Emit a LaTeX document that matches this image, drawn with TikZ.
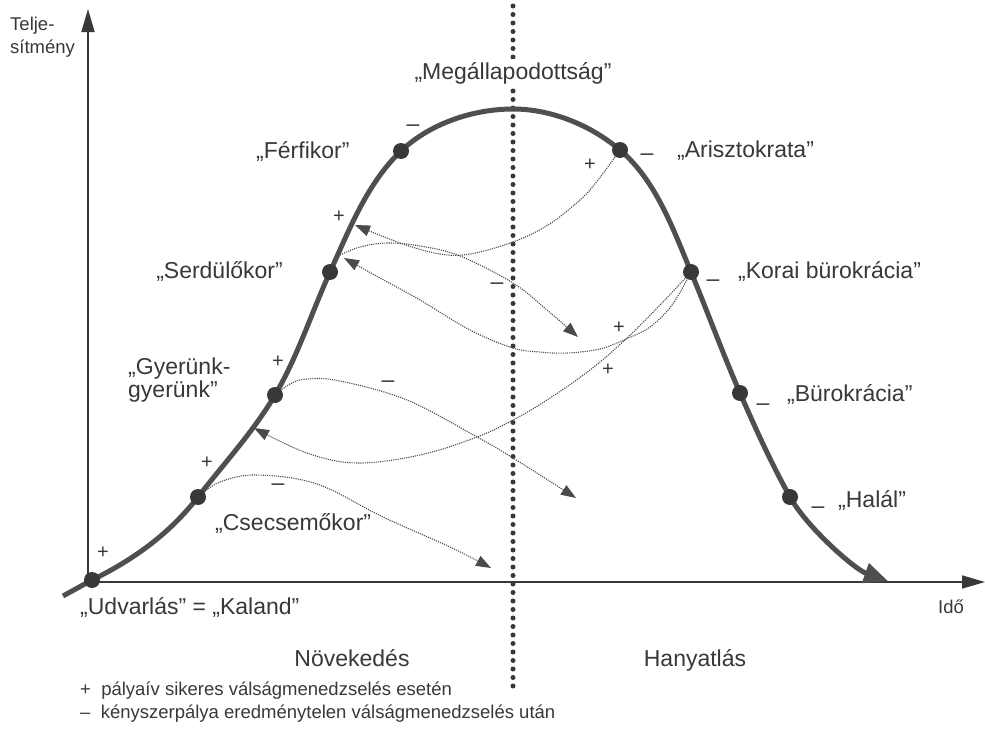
\documentclass[tikz,border=0pt]{standalone}
\usepackage{fontspec}
\setmainfont{Liberation Sans}
\usetikzlibrary{arrows.meta}
\definecolor{ink}{HTML}{383838}
\definecolor{curvegray}{HTML}{4F4F4F}
\definecolor{trace}{HTML}{4A4A4A}

\begin{document}
\begin{tikzpicture}[x=1pt,y=-1pt,
  lbl/.style={font=\fontsize{23}{27}\selectfont, text=ink, inner sep=0pt},
  small/.style={font=\fontsize{18.5}{23}\selectfont, text=ink, inner sep=0pt},
  plus/.style={font=\fontsize{20}{24}\selectfont, text=ink, inner sep=0pt},
  minus/.style={font=\fontsize{23}{27}\selectfont, text=ink, inner sep=0pt},
  axis/.style={draw=ink, line width=1.8pt, -{Triangle[length=23pt,width=13pt]}},
  dot/.style={circle, fill=ink, minimum size=16pt, inner sep=0pt},
  lifecurve/.style={draw=curvegray, line width=5pt, -{Triangle[length=24pt,width=20pt]}},
  trajectory/.style={draw=trace, line width=1.1pt, dash pattern=on 1.1pt off 1.1pt,
    -{Triangle[length=15pt,width=11pt]}},
  divider/.style={draw=ink, line width=5pt, line cap=round, dash pattern=on 0pt off 8.5pt},
]
\useasboundingbox (0,0) rectangle (985,736);

% growth / decline divider
\coordinate (divtop) at (513,6);
\coordinate (divbot) at (513,689);
\draw[divider] (divtop) -- (divbot);

% axes
\coordinate (o) at (88,582);
\coordinate (ytop) at (88,9);
\coordinate (xend) at (985,582);
\draw[axis] (o) -- (ytop);
\draw[axis] (o) -- (xend);

% stages on the life curve
\coordinate (u) at (92,580);
\coordinate (cs) at (198,497);
\coordinate (gy) at (275,395);
\coordinate (se) at (330,272);
\coordinate (fe) at (401,151);
\coordinate (top) at (513,109);
\coordinate (ar) at (620,150);
\coordinate (kb) at (691,272);
\coordinate (bu) at (740,393);
\coordinate (ha) at (790,497);
\coordinate (lifestart) at (63,596);
\coordinate (lifeend) at (888,581);

% arrow ends of the trajectories
\coordinate (tipA) at (355,225);
\coordinate (tipB) at (578,337);
\coordinate (tipC) at (344,258);
\coordinate (tipD) at (254,428);
\coordinate (tipE) at (576,498);
\coordinate (tipF) at (491,568);
\coordinate (startB) at (340,255);

% trajectories
\draw[trajectory] plot[smooth, tension=0.6] coordinates {(ar) (598,180) (580,200) (548,225) (513,242) (470,254) (440,254) (403,244) (tipA)};
\draw[trajectory] plot[smooth, tension=0.6] coordinates {(startB) (360,247) (387,243) (420,246) (460,256) (513,283) (547,310) (tipB)};
\draw[trajectory] plot[smooth, tension=0.6] coordinates {(kb) (672,305) (650,327) (626,339) (600,349) (567,353) (540,352) (513,348) (470,330) (420,300) (380,278) (tipC)};
\draw[trajectory] plot[smooth, tension=0.6] coordinates {(kb) (660,305) (626,339) (590,370) (547,400) (513,420) (477,437) (420,455) (357,463) (307,453) (tipD)};
\draw[trajectory] plot[smooth, tension=0.6] coordinates {(gy) (290,384) (307,379) (340,381) (407,400) (477,437) (513,458) (tipE)};
\draw[trajectory] plot[smooth, tension=0.6] coordinates {(cs) (220,482) (257,475) (317,484) (383,517) (450,547) (tipF)};

% life curve
\draw[lifecurve] (lifestart) -- (u)
  .. controls (135,559) and (170,533) .. (cs)
  .. controls (224.1,463.3) and (253.4,431.7) .. (gy)
  .. controls (297.8,356.3) and (311.4,312.9) .. (se)
  .. controls (349.4,229.4) and (367.1,183.2) .. (fe)
  .. controls (429.9,123.5) and (473.1,109) .. (top)
  .. controls (551.2,109) and (590.9,125.2) .. (ar)
  .. controls (655.9,180.5) and (672.9,228.5) .. (kb)
  .. controls (707.7,312.2) and (722.6,353.1) .. (bu)
  .. controls (755.4,428.3) and (771.3,463.4) .. (ha)
  .. controls (807,527.6) and (855,569.5) .. (lifeend);

% stage dots
\foreach \p in {u,cs,gy,se,fe,ar,kb,bu,ha} \node[dot] (dot-\p) at (\p) {};

% stage names
\node[lbl, fill=white, inner sep=3pt] (lmeg) at (513,73) {„Megállapodottság”};
\node[lbl, anchor=base west] (lfe) at (256,158) {„Férfikor”};
\node[lbl, anchor=base west] (lar) at (677,157) {„Arisztokrata”};
\node[lbl, anchor=base east] (lse) at (283,278) {„Serdülőkor”};
\node[lbl, anchor=base west] (lkb) at (738,278) {„Korai bürokrácia”};
\node[lbl, anchor=base west, align=left, font=\fontsize{23}{20}\selectfont] (lgy) at (128,397) {„Gyerünk-\\gyerünk”};
\node[lbl, anchor=base west] (lbu) at (787,401) {„Bürokrácia”};
\node[lbl, anchor=base west] (lcs) at (215,530) {„Csecsemőkor”};
\node[lbl, anchor=base west] (lha) at (838,507) {„Halál”};
\node[lbl, anchor=base west] (lud) at (80,614) {„Udvarlás” = „Kaland”};

% phases and axis titles
\node[lbl, anchor=base] (lgrow) at (352,666) {Növekedés};
\node[lbl, anchor=base] (ldecl) at (695,666) {Hanyatlás};
\node[small, anchor=base west, align=left, font=\fontsize{18.5}{23}\selectfont] (lperf) at (10,53) {Telje-\\sítmény};
\node[small, anchor=base west] (ltime) at (938,613) {Idő};

% plus / minus marks
\node[plus] (p1) at (103,553) {+};
\node[plus] (p2) at (207,463) {+};
\node[plus] (p3) at (278,362) {+};
\node[plus] (p4) at (339,217) {+};
\node[plus] (p5) at (590,165) {+};
\node[plus] (p6) at (619,328) {+};
\node[plus] (p7) at (608,370) {+};
\node[minus] (m1) at (278,487) {–};
\node[minus] (m2) at (388,384) {–};
\node[minus] (m3) at (497,286) {–};
\node[minus] (m4) at (413,128) {–};
\node[minus] (m5) at (647,157) {–};
\node[minus] (m6) at (713,283) {–};
\node[minus] (m7) at (763,407) {–};
\node[minus] (m8) at (818,510) {–};

% legend
\node[small, anchor=base west] (leg1) at (80,695) {+\ \ pályaív sikeres válságmenedzselés esetén};
\node[small, anchor=base west] (leg2) at (80,718) {–\ \ kényszerpálya eredménytelen válságmenedzselés után};
\end{tikzpicture}
\end{document}
